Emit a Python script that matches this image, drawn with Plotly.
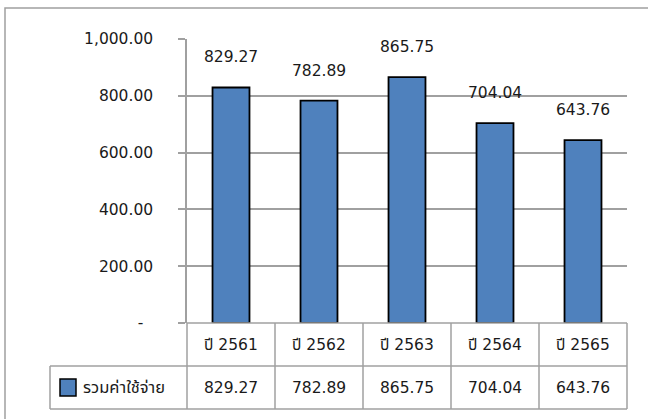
import plotly.graph_objects as go

# ---- data ----
categories = ["ปี 2561", "ปี 2562", "ปี 2563", "ปี 2564", "ปี 2565"]
values = [829.27, 782.89, 865.75, 704.04, 643.76]
series_name = "รวมค่าใช้จ่าย"
tick_vals = [0, 200, 400, 600, 800, 1000]
tick_text = ["-\u00a0\u00a0", "200.00", "400.00", "600.00", "800.00", "1,000.00"]

# ---- layout constants ----
W, H = 648, 419
ML, MR, MT, MB = 187, 21, 39, 96
PW, PH = W - ML - MR, H - MT - MB
FONT = "DejaVu Sans, Noto Sans Thai, Loma, Garuda, Tahoma, sans-serif"
BAR_COLOR = "#4F81BD"
GRID = "#A0A0A0"
TXT = "#1a1a1a"

n = len(categories)


def px_x(p):  # pixel -> paper x
    return (p - ML) / PW


def px_y(p):  # pixel (from top) -> paper y
    return (H - MB - p) / PH


def cat_edge(i):  # boundary between categories in paper x
    return i / n


row1_bottom = px_y(366)
row2_bottom = px_y(409)
legend_left = px_x(50)

fig = go.Figure()
fig.add_trace(go.Bar(
    x=categories, y=values, name=series_name,
    marker=dict(color=BAR_COLOR, line=dict(color="black", width=1.8)),
    width=0.42, showlegend=False, hoverinfo="skip",
))

annotations = []
# value labels above bars
for c, v in zip(categories, values):
    annotations.append(dict(x=c, y=v, xref="x", yref="y", text=f"{v:.2f}",
                            showarrow=False, yanchor="middle", yshift=30,
                            font=dict(family=FONT, size=15.5, color=TXT)))
# data table text
for i, (c, v) in enumerate(zip(categories, values)):
    xc = (cat_edge(i) + cat_edge(i + 1)) / 2
    annotations.append(dict(x=xc, y=(0 + row1_bottom) / 2, xref="paper", yref="paper",
                            text=c, showarrow=False, xanchor="center", yanchor="middle",
                            font=dict(family=FONT, size=15.5, color=TXT)))
    annotations.append(dict(x=xc, y=(row1_bottom + row2_bottom) / 2, xref="paper", yref="paper",
                            text=f"{v:.2f}", showarrow=False, xanchor="center", yanchor="middle",
                            font=dict(family=FONT, size=15.5, color=TXT)))
annotations.append(dict(x=px_x(81), y=(row1_bottom + row2_bottom) / 2, xref="paper", yref="paper",
                        text=series_name, showarrow=False, xanchor="left", yanchor="middle",
                        font=dict(family=FONT, size=16.5, color=TXT)))

shapes = []
line_style = dict(color=GRID, width=1.5)
# table horizontal lines
shapes.append(dict(type="line", xref="paper", yref="paper", x0=0, x1=1, y0=0, y1=0, line=line_style))
shapes.append(dict(type="line", xref="paper", yref="paper", x0=legend_left, x1=1,
                   y0=row1_bottom, y1=row1_bottom, line=line_style))
shapes.append(dict(type="line", xref="paper", yref="paper", x0=legend_left, x1=1,
                   y0=row2_bottom, y1=row2_bottom, line=line_style))
# table vertical lines
for i in range(n + 1):
    shapes.append(dict(type="line", xref="paper", yref="paper", x0=cat_edge(i), x1=cat_edge(i),
                       y0=0, y1=row2_bottom, line=line_style))
shapes.append(dict(type="line", xref="paper", yref="paper", x0=legend_left, x1=legend_left,
                   y0=row1_bottom, y1=row2_bottom, line=line_style))
# legend key
shapes.append(dict(type="rect", xref="paper", yref="paper", x0=px_x(60), x1=px_x(76),
                   y0=px_y(396), y1=px_y(379), fillcolor=BAR_COLOR,
                   line=dict(color="black", width=1.5)))
# chart outer border (top and left visible; rest falls outside the picture)
shapes.append(dict(type="rect", xref="paper", yref="paper", x0=px_x(5), x1=px_x(W + 20),
                   y0=px_y(H + 20), y1=px_y(8), fillcolor="rgba(0,0,0,0)",
                   line=dict(color=GRID, width=1.5), layer="below"))

fig.update_layout(
    width=W, height=H,
    margin=dict(l=ML, r=MR, t=MT, b=MB, pad=0),
    paper_bgcolor="white", plot_bgcolor="rgba(0,0,0,0)",
    font=dict(family=FONT, size=15.5, color=TXT),
    showlegend=False,
    bargap=0.58,
    annotations=annotations,
    shapes=shapes,
    xaxis=dict(showticklabels=False, showline=False, showgrid=False, ticks="",
               zeroline=False, fixedrange=True),
    yaxis=dict(range=[0, 1000], tickvals=tick_vals, ticktext=tick_text,
               showgrid=True, gridcolor=GRID, gridwidth=1.5,
               showline=True, linecolor=GRID, linewidth=1.5,
               ticks="outside", ticklen=7, tickcolor=GRID, tickwidth=1.5,
               ticklabelstandoff=22, zeroline=False,
               tickfont=dict(family=FONT, size=15.5, color=TXT), fixedrange=True),
)

fig.write_html("out.html", config={"displayModeBar": False},
               post_script="document.body.style.margin='0';document.body.style.overflow='hidden';")
